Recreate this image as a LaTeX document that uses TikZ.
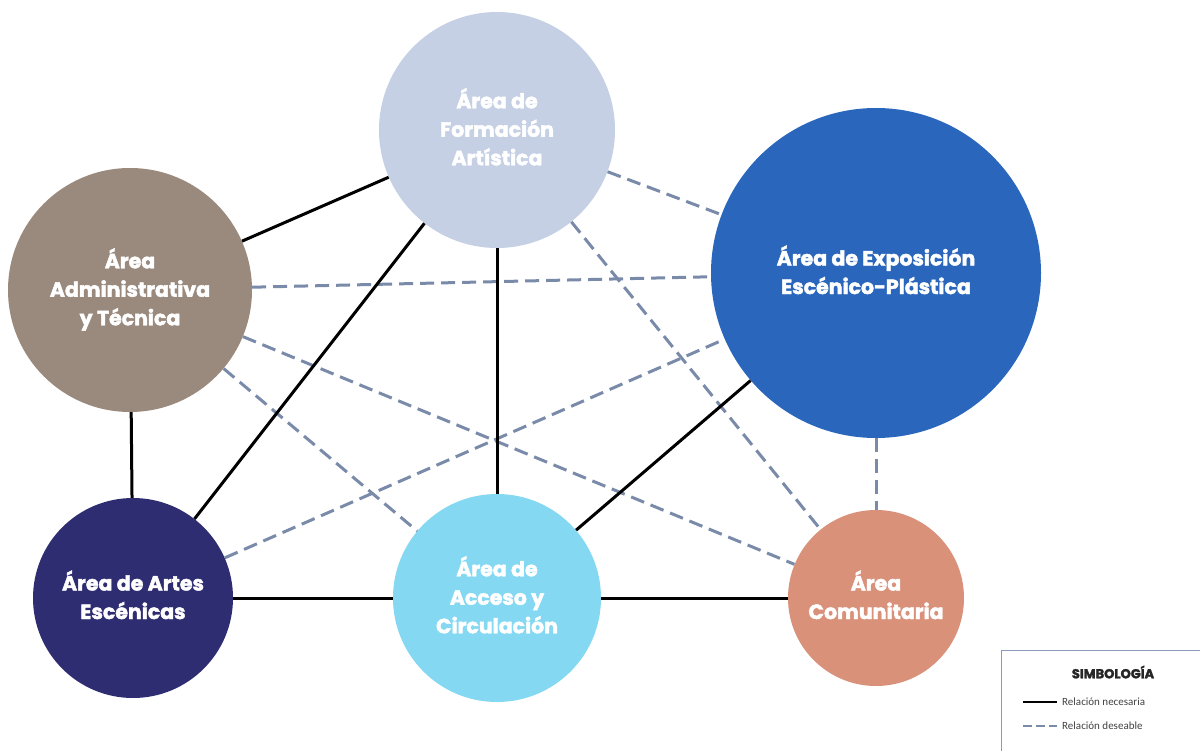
\documentclass[tikz,border=0pt]{standalone}
\usepackage{fontspec}
\setmainfont{Poppins}[BoldFeatures={FakeBold=2.2}]
\newfontfamily\legendfont{Carlito}
\definecolor{cForm}{HTML}{C5D0E5}
\definecolor{cExpo}{HTML}{2A67BC}
\definecolor{cAdmin}{HTML}{9A8A7E}
\definecolor{cArtes}{HTML}{2F2D72}
\definecolor{cAcceso}{HTML}{84D8F2}
\definecolor{cComu}{HTML}{D9917A}
\definecolor{cDash}{HTML}{7A8BAA}
\definecolor{cBorder}{HTML}{8A9AB8}
\begin{document}
\begin{tikzpicture}[x=1pt,y=-1pt,
  area/.style={circle,inner sep=0pt,text=white,align=center,
    font=\fontsize{20.5}{28.5}\selectfont\bfseries},
  necesaria/.style={line width=3pt,black},
  deseable/.style={line width=3pt,cDash,dash pattern=on 14pt off 7pt}]
\useasboundingbox (0,0) rectangle (1200,751);
% circles
\node[area,fill=cForm,minimum size=236pt] (F) at (497,130) {Área de\\Formación\\Artística\\[-22pt]};
\node[area,fill=cExpo,minimum size=330pt] (E) at (876,273) {Área de Exposición\\Escénico-Plástica\\[-22pt]};
\node[area,fill=cAdmin,minimum size=244pt] (A) at (130,290) {Área\\Administrativa\\y Técnica\\[-22pt]};
\node[area,fill=cArtes,minimum size=200pt] (S) at (133,598) {Área de Artes\\Escénicas\\[-22pt]};
\node[area,fill=cAcceso,minimum size=208pt] (C) at (497,598) {Área de\\Acceso y\\Circulación\\[-22pt]};
\node[area,fill=cComu,minimum size=176pt] (M) at (876,598) {Área\\Comunitaria\\[-22pt]};
% connectors
\draw[deseable] (F) -- (E);
\draw[deseable] (A) -- (E);
\draw[deseable] (A) -- (M);
\draw[deseable] (A) -- (C);
\draw[deseable] (S) -- (E);
\draw[deseable] (F) -- (M);
\draw[deseable] (E) -- (M);
\draw[necesaria] (A) -- (F);
\draw[necesaria] (A) -- (S);
\draw[necesaria] (S) -- (F);
\draw[necesaria] (F) -- (C);
\draw[necesaria] (S) -- (C);
\draw[necesaria] (C) -- (M);
\draw[necesaria] (C) -- (E);
% legend
\node[draw=cBorder,line width=1.3pt,minimum width=210pt,minimum height=110pt,anchor=north west,inner sep=0pt] (L) at (1001,650) {};
\node[font=\fontsize{13}{15}\selectfont\bfseries,text=black!85] (LT) at (1113,672) {SIMBOLOGÍA};
\coordinate (n1) at (1023,702);
\coordinate (n2) at (1057,702);
\coordinate (d1) at (1023,726);
\coordinate (d2) at (1057,726);
\draw[line width=2.6pt,black] (n1) -- (n2);
\draw[line width=2.6pt,cDash,dash pattern=on 9pt off 4pt] (d1) -- (d2);
\node[anchor=west,inner sep=0pt,font=\legendfont\fontsize{11}{13}\selectfont,text=black!75] (LN) at (1062,702) {Relación necesaria};
\node[anchor=west,inner sep=0pt,font=\legendfont\fontsize{11}{13}\selectfont,text=black!75] (LD) at (1062,726) {Relación deseable};
\end{tikzpicture}
\end{document}
